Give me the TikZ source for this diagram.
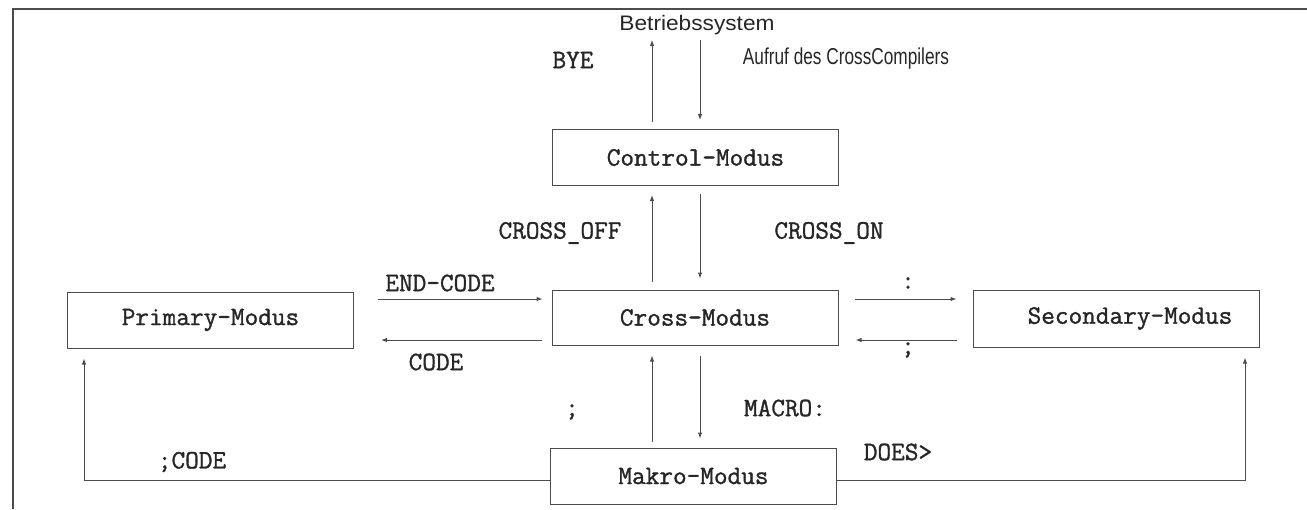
\documentclass[tikz,border=0pt]{standalone}
\usepackage{fontspec}
\newfontfamily\sansf{Liberation Sans}
\newfontfamily\monof{Latin Modern Mono}[FakeBold=1.2]
\usetikzlibrary{arrows.meta}
\begin{document}
\begin{tikzpicture}[x=1pt,y=-1pt,
  ln/.style={draw=black!70,line width=1pt},
  arr/.style={ln,-{Latex[length=6pt,width=4.5pt]}},
  modebox/.style={ln,rectangle,minimum width=286pt,minimum height=56pt,inner sep=0pt,
     font=\monof\fontsize{26.5}{30}\selectfont,text=black!85},
  lab/.style={inner sep=0pt,font=\monof\fontsize{26.5}{30}\selectfont,text=black!85},
  slab/.style={inner sep=0pt,font=\sansf\fontsize{21}{24}\selectfont,text=black!85}]
\useasboundingbox (0,0) rectangle (1307,509);
% frame
\coordinate (fl) at (13,509);
\coordinate (fc) at (13,9);
\coordinate (fr) at (1307,9);
\draw[ln,line width=1.4pt] (fl) -- (fc) -- (fr);
% boxes
\node[modebox] (ctrl) at (695.5,157.5) {Control-Modus};
\node[modebox,minimum height=55pt] (cross) at (695,317.5) {Cross-Modus\hspace{28pt}};
\node[modebox] (prim) at (210.5,320) {Primary-Modus};
\node[modebox,minimum height=57pt] (sec) at (1116,318.5) {\hspace{28pt}Secondary-Modus};
\node[modebox] (makro) at (693.5,476) {Makro-Modus\hspace{24pt}};
% texts
\node[slab] (os) at (697,25) {\scalebox{1.08}[1]{Betriebssystem}};
\node[lab] (bye) at (573,60) {BYE};
\node[slab] (aufruf) at (846,59) {\fontsize{23}{26}\selectfont\scalebox{0.75}[1]{Aufruf des CrossCompilers}};
\node[lab] (coff) at (560,233) {CROSS\_OFF};
\node[lab] (con) at (829,233) {CROSS\_ON};
\node[lab] (endc) at (440,283) {END-CODE};
\node[lab] (code) at (436,362) {CODE};
\node[lab] (colon) at (908,283) {:};
\node[lab] (semi1) at (908,350) {;};
\node[lab] (semi2) at (572,412) {;};
\node[lab] (macro) at (785,408) {MACRO:};
\node[lab] (does) at (898,452) {DOES>};
\node[lab] (scode) at (192,462) {;CODE};
% column coordinates
\coordinate (xl) at (652,0);
\coordinate (xr) at (700,0);
\coordinate (xpl) at (84,0);
\coordinate (xsr) at (1245,0);
% vertical arrows
\draw[arr,shorten <=7pt,shorten >=5pt] (ctrl.north -| xl) -- (os.south -| xl);
\draw[arr,shorten <=5pt,shorten >=9pt] (os.south -| xr) -- (ctrl.north -| xr);
\draw[arr,shorten <=8pt,shorten >=9pt] (cross.north -| xl) -- (ctrl.south -| xl);
\draw[arr,shorten <=8pt,shorten >=11pt] (ctrl.south -| xr) -- (cross.north -| xr);
\draw[arr,shorten <=6pt,shorten >=10pt] (makro.north -| xl) -- (cross.south -| xl);
\draw[arr,shorten <=10pt,shorten >=9pt] (cross.south -| xr) -- (makro.north -| xr);
% horizontal arrows
\coordinate (yt) at (0,299);
\coordinate (yb) at (0,340);
\draw[arr,shorten <=24pt,shorten >=9pt] (prim.east |- yt) -- (cross.west |- yt);
\draw[arr,shorten <=10pt,shorten >=27pt] (cross.west |- yb) -- (prim.east |- yb);
\draw[arr,shorten <=16pt,shorten >=16pt] (cross.east |- yt) -- (sec.west |- yt);
\draw[arr,shorten <=16pt,shorten >=17pt] (sec.west |- yb) -- (cross.east |- yb);
% makro returns
\coordinate (ym) at (0,480);
\draw[arr,shorten >=10pt] (makro.west |- ym) -- (xpl |- ym) -- (xpl |- prim.south);
\draw[arr,shorten >=10pt] (makro.east |- ym) -- (xsr |- ym) -- (xsr |- sec.south);
\end{tikzpicture}
\end{document}
